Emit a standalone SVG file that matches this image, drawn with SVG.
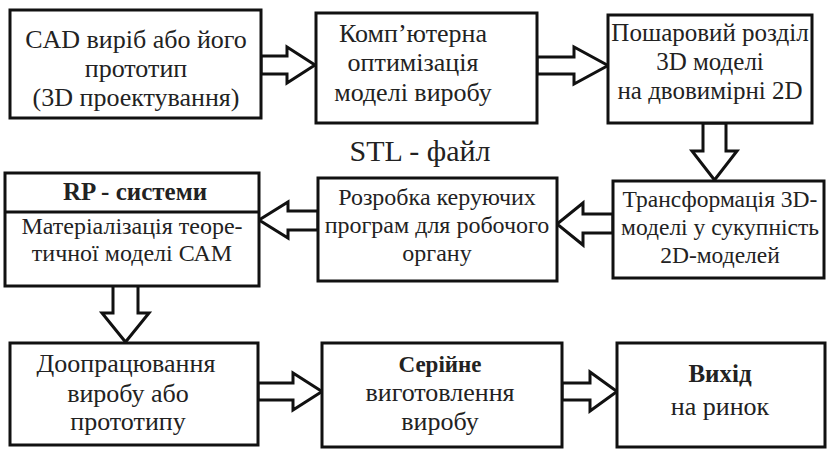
<svg xmlns="http://www.w3.org/2000/svg" width="827" height="449" viewBox="0 0 827 449">
<style>
.box{fill:#fff;stroke:#111;stroke-width:3}
.arr{fill:#fff;stroke:#111;stroke-width:3;stroke-linejoin:miter}
text{font-family:"Liberation Serif","Times New Roman",serif;font-size:26px;fill:#222;text-anchor:middle}
.b{font-weight:bold}
</style>
<rect width="827" height="449" fill="#fff"/>
<g id="connectors">
<polygon class="arr" points="261,56 287,56 287,47 315,65 287,83 287,74 261,74"/>
<polygon class="arr" points="537,57 574,57 574,47 608,65.5 574,84 574,74 537,74"/>
<polygon class="arr" points="703,123 703,151 692,151 714.5,180 737,151 726,151 726,123"/>
<polygon class="arr" points="613,214 583,214 583,203 557,224 583,245 583,233 613,233"/>
<polygon class="arr" points="318,211 288,211 288,202 259,220 288,238 288,230 318,230"/>
<polygon class="arr" points="113,284 113,313 102,313 125.5,342 149,313 138,313 138,284"/>
<polygon class="arr" points="258,383 293,383 293,373 322,391.5 293,410 293,400 258,400"/>
<polygon class="arr" points="562,383 590,383 590,372 617,391.5 590,411 590,400 562,400"/>
</g>
<g id="n1"><rect class="box" x="10" y="10" width="251" height="108"/>
<text x="136" y="48">CAD виріб або його</text><text x="136" y="77">прототип</text><text x="136" y="106">(3D проектування)</text></g>
<g id="n2"><rect class="box" x="316" y="13" width="221" height="110"/>
<text x="413" y="42">Комп’ютерна</text><text x="413" y="71">оптимізація</text><text x="413" y="101">моделі виробу</text></g>
<g id="n3" style="font-size:25px"><rect class="box" x="608" y="15" width="204" height="108"/>
<text x="710" y="41" style="font-size:25px">Пошаровий розділ</text><text x="710" y="70" style="font-size:25px">3D моделі</text><text x="710" y="99" style="font-size:25px">на двовимірні 2D</text></g>
<g id="stl"><text x="420" y="161" style="font-size:30px">STL - файл</text></g>
<g id="n4"><rect class="box" x="613" y="181" width="211" height="97"/>
<text x="720" y="207" style="font-size:23.5px">Трансформація 3D-</text><text x="720" y="235" style="font-size:23.5px">моделі у сукупність</text><text x="720" y="263" style="font-size:23.5px">2D-моделей</text></g>
<g id="n5"><rect class="box" x="318" y="178" width="239" height="103"/>
<text x="437" y="205" style="font-size:24px">Розробка керуючих</text><text x="437" y="233" style="font-size:24px">програм для робочого</text><text x="437" y="261" style="font-size:24px">органу</text></g>
<g id="n6"><rect class="box" x="5" y="173" width="254" height="113"/><line x1="5" y1="212" x2="259" y2="212" stroke="#111" stroke-width="3"/>
<text class="b" x="135" y="200" style="font-size:25px">RP - системи</text><text x="132" y="234" style="font-size:24px">Матеріалізація теоре-</text><text x="132" y="261" style="font-size:24px">тичної моделі САМ</text></g>
<g id="n7"><rect class="box" x="10" y="343" width="248" height="102"/>
<text x="126" y="372">Доопрацювання</text><text x="128" y="402">виробу або</text><text x="128" y="430">прототипу</text></g>
<g id="n8"><rect class="box" x="322" y="343" width="240" height="104"/>
<text class="b" x="440" y="372" style="font-size:23px">Серійне</text><text x="440" y="401">виготовлення</text><text x="440" y="430">виробу</text></g>
<g id="n9"><rect class="box" x="617" y="343" width="208" height="104"/>
<text class="b" x="720" y="382" style="font-size:25px">Вихід</text><text x="720" y="415">на ринок</text></g>
</svg>
